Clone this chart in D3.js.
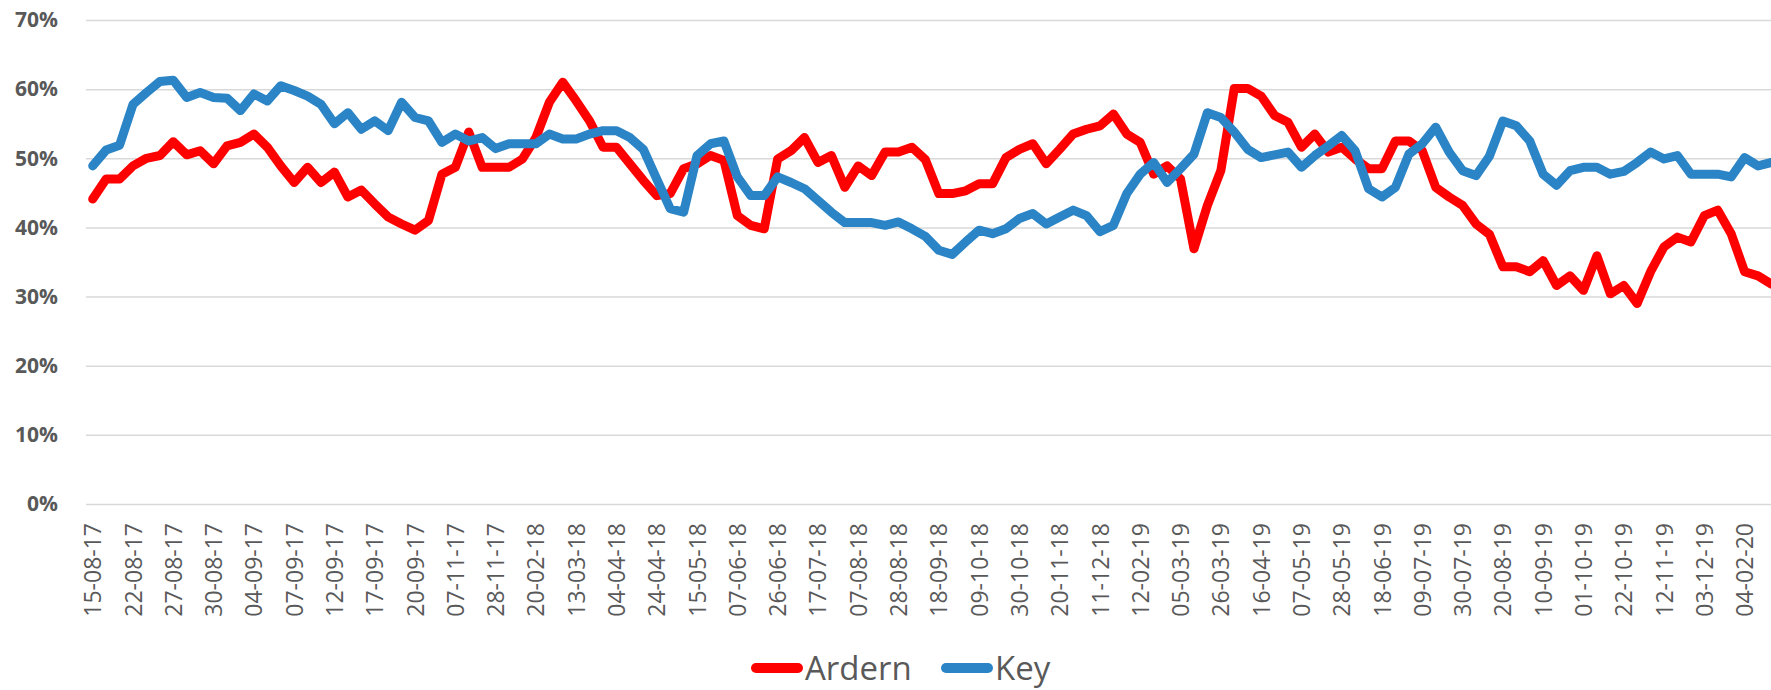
<!DOCTYPE html>
<html>
<head>
<meta charset="utf-8">
<script src="https://cdn.jsdelivr.net/npm/d3@7"></script>
<style>
  html, body { margin: 0; padding: 0; background: #fff; overflow: hidden; }
  svg { display: block; }
</style>
</head>
<body>
<svg id="chart" width="1771" height="690"></svg>
<script>
// Category tick labels (one label every 3 data points)
const tickLabels = ["15-08-17","22-08-17","27-08-17","30-08-17","04-09-17","07-09-17","12-09-17","17-09-17","20-09-17","07-11-17","28-11-17","20-02-18","13-03-18","04-04-18","24-04-18","15-05-18","07-06-18","26-06-18","17-07-18","07-08-18","28-08-18","18-09-18","09-10-18","30-10-18","20-11-18","11-12-18","12-02-19","05-03-19","26-03-19","16-04-19","07-05-19","28-05-19","18-06-19","09-07-19","30-07-19","20-08-19","10-09-19","01-10-19","22-10-19","12-11-19","03-12-19","04-02-20"];
const labelEvery = 3;

// Series values (%)
const ardern = [44.1,47.0,47.0,48.9,50.0,50.4,52.4,50.5,51.1,49.2,51.8,52.3,53.5,51.6,48.9,46.5,48.7,46.5,48.0,44.4,
  45.4,43.4,41.5,40.5,39.6,41.0,47.7,48.7,53.8,48.7,48.7,48.7,49.9,53.0,58.1,61.0,58.3,55.4,51.6,51.6,
  49.2,46.8,44.6,44.9,48.5,49.2,50.4,49.7,41.7,40.3,39.8,49.9,51.1,53.0,49.4,50.4,45.8,48.9,47.5,50.9,
  50.9,51.6,49.8,44.9,44.9,45.3,46.3,46.3,50.1,51.3,52.1,49.2,51.3,53.5,54.2,54.7,56.4,53.5,52.3,47.7,
  48.9,47.0,36.9,43.2,48.2,60.1,60.1,59.0,56.2,55.2,51.6,53.5,50.9,51.6,49.9,48.5,48.5,52.5,52.5,51.1,
  45.8,44.4,43.2,40.5,39.0,34.3,34.3,33.6,35.2,31.6,33.0,30.9,35.9,30.4,31.6,29.0,33.6,37.2,38.6,37.9,
  41.7,42.5,39.1,33.6,33.0,31.8];
const key = [48.9,51.2,51.9,57.8,59.5,61.1,61.3,58.8,59.5,58.8,58.7,56.9,59.3,58.3,60.5,59.8,59.0,57.8,55.0,56.6,
  54.2,55.4,54.0,58.1,55.9,55.4,52.3,53.5,52.5,53.0,51.4,52.1,52.1,52.1,53.5,52.8,52.8,53.5,54.0,54.0,
  53.0,51.3,47.0,42.7,42.2,50.4,52.1,52.5,47.3,44.6,44.6,47.3,46.5,45.6,43.9,42.2,40.7,40.7,40.7,40.3,
  40.8,39.8,38.7,36.7,36.1,37.9,39.6,39.1,39.8,41.3,42.0,40.5,41.5,42.5,41.7,39.4,40.3,44.9,47.7,49.4,
  46.5,48.5,50.6,56.6,55.9,53.8,51.3,50.1,50.5,50.9,48.7,50.4,51.8,53.3,51.1,45.6,44.4,45.8,50.6,52.1,
  54.5,50.9,48.2,47.5,50.3,55.4,54.7,52.5,47.7,46.1,48.2,48.7,48.7,47.7,48.1,49.4,50.9,49.9,50.4,47.7,
  47.7,47.7,47.3,50.1,48.9,49.4];
const yTicks = [0,10,20,30,40,50,60,70];
const seriesNames = ["Ardern","Key"];
const seriesColors = ["#ff0000","#2a84c6"];

(function draw() {
  const svg = d3.select("#chart");
  const W = 1771;
  const mLeft = 86, mTop = 20, mBottom = 504;
  const step = 13.43;
  const idx = d3.range(ardern.length);

  const x = d3.scalePoint().domain(idx).range([mLeft, mLeft + step * idx.length]).padding(0.5);
  const y = d3.scaleLinear().domain([0, 70]).range([mBottom, mTop]);

  // gridlines + y axis labels
  const yAxis = d3.axisLeft(y).tickValues(yTicks).tickSize(-(W - mLeft)).tickFormat(d => d + "%");
  const gy = svg.append("g").attr("transform", `translate(${mLeft},0)`).call(yAxis);
  gy.select(".domain").remove();
  gy.selectAll(".tick line").attr("stroke", "#d9d9d9").attr("stroke-width", 1.5);
  gy.selectAll(".tick text")
    .attr("x", -28)
    .attr("fill", "#595959")
    .style("font-family", "'Open Sans', 'Liberation Sans', sans-serif")
    .style("font-weight", "bold")
    .style("font-size", "21px");

  // x axis labels
  const xTickVals = idx.filter(i => i % labelEvery === 0 && i / labelEvery < tickLabels.length);
  const xAxis = d3.axisBottom(x).tickValues(xTickVals).tickSize(0).tickFormat(i => tickLabels[i / labelEvery]);
  const gx = svg.append("g").attr("transform", `translate(0,${mBottom})`).call(xAxis);
  gx.select(".domain").remove();
  gx.selectAll(".tick text")
    .attr("transform", "rotate(-90)")
    .attr("x", -19)
    .attr("y", 0)
    .attr("dy", "0.35em")
    .attr("text-anchor", "end")
    .attr("fill", "#595959")
    .style("font-family", "'Open Sans', 'Liberation Sans', sans-serif")
    .style("font-size", "23px");

  // lines
  const line = d3.line().x((d, i) => x(i)).y(d => y(d));
  [ardern, key].forEach((s, k) => {
    svg.append("path")
      .datum(s)
      .attr("d", line)
      .attr("fill", "none")
      .attr("stroke", seriesColors[k])
      .attr("stroke-width", 9)
      .attr("stroke-linejoin", "round")
      .attr("stroke-linecap", "round");
  });

  // legend
  const legendX = [751, 941];
  const lg = svg.append("g").attr("transform", "translate(0,668)");
  seriesNames.forEach((n, k) => {
    const g = lg.append("g").attr("transform", `translate(${legendX[k]},0)`);
    g.append("line").attr("x1", 5).attr("x2", 47).attr("y1", 0).attr("y2", 0)
      .attr("stroke", seriesColors[k]).attr("stroke-width", 10).attr("stroke-linecap", "round");
    g.append("text").attr("x", 54).attr("y", 0).attr("dy", "0.35em")
      .attr("fill", "#595959")
      .style("font-family", "'Open Sans', 'Liberation Sans', sans-serif")
      .style("font-size", "33px")
      .text(n);
  });
})();
</script>
</body>
</html>
